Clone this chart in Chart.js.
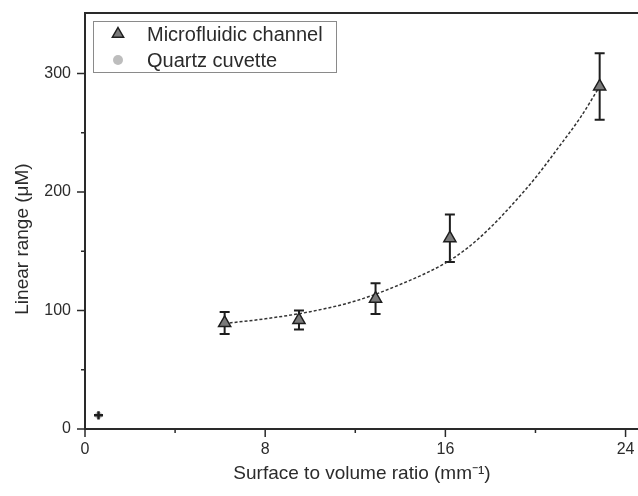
<!DOCTYPE html>
<html>
<head>
<meta charset="utf-8">
<script src="https://cdn.jsdelivr.net/npm/chart.js@4"></script>
<style>
  html, body { margin: 0; padding: 0; background: #fff; overflow: hidden; }
  #wrap { width: 638px; height: 496px; overflow: hidden; }
</style>
</head>
<body>
<div id="wrap"><canvas id="myChart" width="646" height="496"></canvas></div>
<script>
// data
const channelX = [6.2, 9.5, 12.9, 16.2, 22.85];
const channelY = [89.5, 92, 110, 161, 289];
const channelErr = [9.3, 8, 13, 20, 28];

const quartzX = [0.6];
const quartzY = [11.5];
const quartzErr = [3.5];
const quartzXErr = [0.2];

// dashed fit curve
const fitX = [6.2, 8, 10, 12, 14, 16, 17, 18, 19, 20, 21, 22, 22.85];
const fitY = [89, 93, 99, 108, 122, 140, 153, 170, 190, 212, 237, 263, 289];

const xMajor = [0, 8, 16, 24];
const xMinor = [4, 12, 20];
const yMajor = [0, 100, 200, 300];
const yMinor = [50, 150, 250];

const FONT = '"Liberation Sans", Arial, sans-serif';
const INK = '#2b2b2b';

const pts = (xs, ys) => xs.map((x, i) => ({ x: x, y: ys[i] }));

// error bars under the markers
const errorBars = {
  id: 'errorBars',
  beforeDatasetsDraw(chart) {
    const { ctx, scales: { x, y } } = chart;
    ctx.save();
    ctx.strokeStyle = '#1e1e1e';
    ctx.lineWidth = 2;
    channelX.forEach((v, i) => {
      const px = x.getPixelForValue(v);
      const top = y.getPixelForValue(channelY[i] + channelErr[i]);
      const bot = y.getPixelForValue(channelY[i] - channelErr[i]);
      ctx.beginPath();
      ctx.moveTo(px, top); ctx.lineTo(px, bot);
      ctx.moveTo(px - 5, top); ctx.lineTo(px + 5, top);
      ctx.moveTo(px - 5, bot); ctx.lineTo(px + 5, bot);
      ctx.stroke();
    });
    ctx.restore();
  },
  afterDatasetsDraw(chart) {
    const { ctx, scales: { x, y } } = chart;
    ctx.save();
    ctx.strokeStyle = '#1e1e1e';
    ctx.lineWidth = 2.5;
    quartzX.forEach((v, i) => {
      const px = x.getPixelForValue(v);
      const py = y.getPixelForValue(quartzY[i]);
      ctx.beginPath();
      ctx.moveTo(px, y.getPixelForValue(quartzY[i] + quartzErr[i]));
      ctx.lineTo(px, y.getPixelForValue(quartzY[i] - quartzErr[i]));
      ctx.moveTo(x.getPixelForValue(v - quartzXErr[i]), py);
      ctx.lineTo(x.getPixelForValue(v + quartzXErr[i]), py);
      ctx.stroke();
    });
    ctx.restore();
  }
};

// frame, ticks, titles and legend box
const frame = {
  id: 'frame',
  afterDraw(chart) {
    const { ctx, chartArea: a, scales: { x, y } } = chart;
    ctx.save();
    ctx.strokeStyle = '#2a2a2a';
    ctx.lineWidth = 2;
    ctx.beginPath();
    ctx.moveTo(a.right + 2, a.top); ctx.lineTo(a.left, a.top);
    ctx.lineTo(a.left, a.bottom); ctx.lineTo(a.right + 2, a.bottom);
    ctx.stroke();

    ctx.lineWidth = 1.5;
    ctx.beginPath();
    xMajor.forEach(v => { const p = x.getPixelForValue(v); ctx.moveTo(p, a.bottom); ctx.lineTo(p, a.bottom + 8); });
    xMinor.forEach(v => { const p = x.getPixelForValue(v); ctx.moveTo(p, a.bottom); ctx.lineTo(p, a.bottom + 4); });
    yMajor.forEach(v => { const p = y.getPixelForValue(v); ctx.moveTo(a.left, p); ctx.lineTo(a.left - 8, p); });
    yMinor.forEach(v => { const p = y.getPixelForValue(v); ctx.moveTo(a.left, p); ctx.lineTo(a.left - 4, p); });
    ctx.stroke();

    // axis titles
    ctx.fillStyle = INK;
    ctx.font = '19px ' + FONT;
    ctx.textAlign = 'center';
    ctx.textBaseline = 'alphabetic';
    ctx.fillText('Surface to volume ratio (mm\u207B\u00B9)', 362, 479);
    ctx.save();
    ctx.translate(28, 239);
    ctx.rotate(-Math.PI / 2);
    ctx.fillText('Linear range (\u03BCM)', 0, 0);
    ctx.restore();

    // legend
    ctx.strokeStyle = '#8a8a8a';
    ctx.lineWidth = 1;
    ctx.strokeRect(93.5, 21.5, 243, 51);
    ctx.beginPath();
    const r = 6.5, cx = 118, cy = 34;
    ctx.moveTo(cx, cy - r);
    ctx.lineTo(cx + r * 0.866, cy + r * 0.5);
    ctx.lineTo(cx - r * 0.866, cy + r * 0.5);
    ctx.closePath();
    ctx.fillStyle = '#7a7a7a';
    ctx.fill();
    ctx.strokeStyle = '#1e1e1e';
    ctx.lineWidth = 1.5;
    ctx.stroke();
    ctx.beginPath();
    ctx.arc(118, 60, 5, 0, Math.PI * 2);
    ctx.fillStyle = '#bdbdbd';
    ctx.fill();
    ctx.fillStyle = INK;
    ctx.font = '20px ' + FONT;
    ctx.textAlign = 'left';
    ctx.fillText('Microfluidic channel', 147, 41);
    ctx.fillText('Quartz cuvette', 147, 67);
    ctx.restore();
  }
};

const data = {
  datasets: [
    {
      label: 'Microfluidic channel',
      data: pts(channelX, channelY),
      pointStyle: 'triangle',
      pointRadius: 7,
      backgroundColor: '#7a7a7a',
      borderColor: '#1e1e1e',
      borderWidth: 1.5,
      order: 0
    },
    {
      label: 'Quartz cuvette',
      data: pts(quartzX, quartzY),
      pointStyle: 'circle',
      pointRadius: 3.5,
      backgroundColor: '#bdbdbd',
      borderWidth: 0,
      order: 1
    },
    {
      label: 'fit',
      data: pts(fitX, fitY),
      showLine: true,
      pointRadius: 0,
      borderColor: '#333',
      borderWidth: 1.5,
      borderDash: [3, 2],
      cubicInterpolationMode: 'monotone',
      order: 2
    }
  ]
};

const config = {
  type: 'scatter',
  data,
  options: {
    responsive: false,
    animation: false,
    layout: { padding: { top: 13, right: 0, left: 0, bottom: 0 } },
    plugins: { legend: { display: false }, tooltip: { enabled: false } },
    scales: {
      x: {
        type: 'linear',
        min: 0,
        max: 24.53,
        afterBuildTicks: s => { s.ticks = xMajor.map(v => ({ value: v })); },
        afterFit: s => { s.height = 67; },
        border: { display: false },
        grid: { display: false, drawTicks: false },
        ticks: { padding: 11, color: INK, font: { family: FONT, size: 16 } }
      },
      y: {
        min: 0,
        max: 351,
        afterBuildTicks: s => { s.ticks = yMajor.map(v => ({ value: v })); },
        afterFit: s => { s.width = 85; s.paddingTop = 0; s.paddingBottom = 0; },
        border: { display: false },
        grid: { display: false, drawTicks: false },
        ticks: { padding: 14, color: INK, font: { family: FONT, size: 16 } }
      }
    }
  },
  plugins: [errorBars, frame]
};

const myChart = new Chart(document.getElementById('myChart'), config);
</script>
</body>
</html>
